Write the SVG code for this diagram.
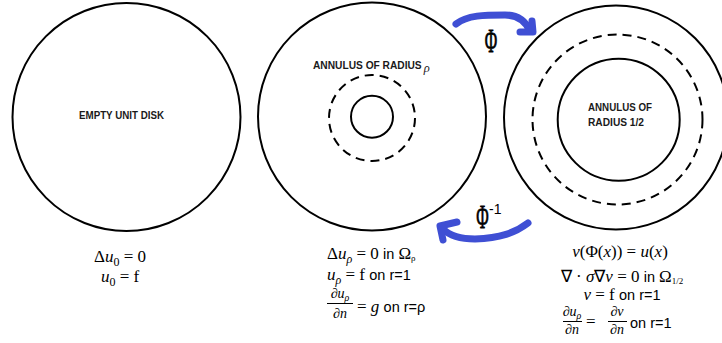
<svg xmlns="http://www.w3.org/2000/svg" width="722" height="343" viewBox="0 0 722 343">
<style>
.disk{fill:none;stroke:#000;stroke-width:2}
.dash{fill:none;stroke:#000;stroke-width:2;stroke-dasharray:9 6}
.lbl{font-family:"Liberation Sans",Arial,sans-serif;font-weight:bold;font-size:10.2px;fill:#1a1a1a}
.m{font-family:"Liberation Serif","Times New Roman",serif;font-size:17px;fill:#000}
.i{font-style:italic}
.s{font-family:"Liberation Sans",Arial,sans-serif;font-size:14.5px;fill:#000}
.fr{font-family:"Liberation Serif","Times New Roman",serif;font-size:14px;fill:#000}
.phi{font-family:"Liberation Serif","Times New Roman",serif;font-size:34px;fill:#000;stroke:#000;stroke-width:0.8}
.arrow{fill:none;stroke:#3f4fd4;stroke-width:7;stroke-linecap:round;stroke-linejoin:round}
</style>
<rect width="722" height="343" fill="#fff"/>
<g id="disk-empty">
<circle class="disk" cx="126.5" cy="117" r="114"/>
<text class="lbl" x="79" y="119" textLength="85" lengthAdjust="spacingAndGlyphs">EMPTY UNIT DISK</text>
</g>
<g id="disk-rho">
<circle class="disk" cx="372" cy="116.5" r="114"/>
<circle class="disk" cx="372" cy="116.7" r="21"/>
<circle class="dash" cx="372" cy="118" r="43"/>
<text class="lbl" x="313" y="69" font-size="9.6">ANNULUS OF RADIUS<tspan font-family="Liberation Serif,serif" font-style="italic" font-weight="normal" font-size="12.5" dx="2" dy="3">ρ</tspan></text>
</g>
<g id="disk-half">
<circle class="disk" cx="616" cy="117.5" r="112"/>
<circle class="dash" cx="617.5" cy="119.5" r="85"/>
<circle class="disk" cx="618.7" cy="119.7" r="61"/>
<text class="lbl" x="588" y="111" textLength="64" lengthAdjust="spacingAndGlyphs">ANNULUS OF</text>
<text class="lbl" x="588" y="126" textLength="56" lengthAdjust="spacingAndGlyphs">RADIUS 1/2</text>
</g>
<g id="connectors">
<path class="arrow" d="M456,24 C467,15 485,15 505,15 C518,15 526,22 530,31"/>
<path class="arrow" d="M520,32 L533,32 L532,21"/>
<path class="arrow" d="M528,223 C515,233 500,238 475,239 C460,239 450,236 443,229"/>
<path class="arrow" d="M457,222 L440,226 L443,240"/>
</g>
<g id="phi-labels">
<text class="phi" text-anchor="middle" transform="translate(491,52) scale(0.5,1)">Φ</text>
<text class="phi" text-anchor="middle" transform="translate(482.5,228) scale(0.5,1)">Φ</text>
<text x="489" y="214" font-family="Liberation Sans,Arial,sans-serif" font-size="14" fill="#000">-1</text>
</g>
<g id="eq-left">
<text class="m" x="120" y="262" text-anchor="middle">Δ<tspan class="i">u</tspan><tspan font-size="12" dy="4">0</tspan><tspan dy="-4"> = 0</tspan></text>
<text class="m" x="120" y="282" text-anchor="middle"><tspan class="i">u</tspan><tspan font-size="12" dy="4">0</tspan><tspan dy="-4"> = f</tspan></text>
</g>
<g id="eq-mid">
<text class="m" x="327" y="259">Δ<tspan class="i">u</tspan><tspan class="i" font-size="12" dy="4">ρ</tspan><tspan dy="-4"> = 0 </tspan><tspan class="s">in </tspan>Ω<tspan font-size="9" dy="2">ρ</tspan></text>
<text class="m" x="327" y="280"><tspan class="i">u</tspan><tspan class="i" font-size="12" dy="4">ρ</tspan><tspan dy="-4"> = f </tspan><tspan class="s">on r=1</tspan></text>
<text class="fr" x="340" y="298" text-anchor="middle">∂<tspan class="i">u</tspan><tspan class="i" font-size="10" dy="3">ρ</tspan></text>
<line x1="327" y1="303.5" x2="353" y2="303.5" stroke="#000" stroke-width="1"/>
<text class="fr i" x="340" y="318" text-anchor="middle">∂n</text>
<text class="m" x="357" y="312">= <tspan class="i">g</tspan> <tspan class="s">on r=ρ</tspan></text>
</g>
<g id="eq-right">
<text class="m" x="620" y="257" text-anchor="middle" font-size="18.5"><tspan class="i">v</tspan>(Φ(<tspan class="i">x</tspan>)) = <tspan class="i">u</tspan>(<tspan class="i">x</tspan>)</text>
<text class="m" x="622" y="282" text-anchor="middle">∇ · <tspan class="i">σ</tspan>∇<tspan class="i">v</tspan> = 0 <tspan class="s">in </tspan>Ω<tspan font-size="9" dy="2">1/2</tspan></text>
<text class="m" x="622" y="300" text-anchor="middle"><tspan class="i">v</tspan> = f <tspan class="s">on r=1</tspan></text>
<text class="fr" x="572" y="316" text-anchor="middle">∂<tspan class="i">u</tspan><tspan class="i" font-size="10" dy="3">ρ</tspan></text>
<line x1="563" y1="321.5" x2="582" y2="321.5" stroke="#000" stroke-width="1"/>
<text class="fr i" x="572" y="334" text-anchor="middle">∂n</text>
<text class="m" x="586" y="327">=</text>
<text class="fr" x="617" y="316" text-anchor="middle">∂<tspan class="i">v</tspan></text>
<line x1="608" y1="321.5" x2="627" y2="321.5" stroke="#000" stroke-width="1"/>
<text class="fr i" x="617" y="334" text-anchor="middle">∂n</text>
<text class="s" x="630" y="328">on r=1</text>
</g>
</svg>
